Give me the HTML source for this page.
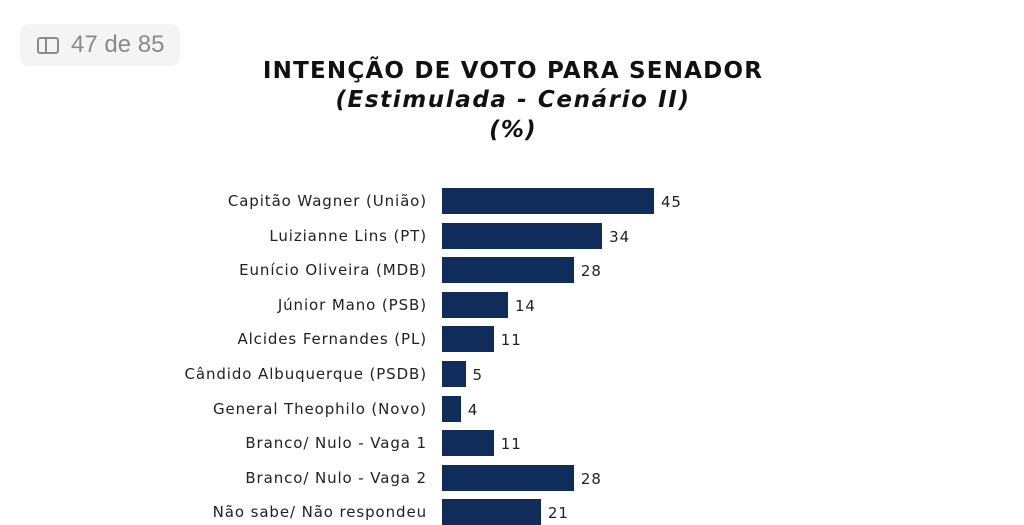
<!DOCTYPE html>
<html><head><meta charset="utf-8"><style>
body{margin:0;width:1024px;height:522px;background:#fff;position:relative;overflow:hidden;font-family:"DejaVu Sans",Verdana,sans-serif;}
.badge{position:absolute;left:20px;top:24px;width:160px;height:42px;background:#f4f4f4;border-radius:8px;}
.badge span{position:absolute;left:51px;top:7px;font-family:"Liberation Sans",sans-serif;font-size:24px;color:#8a8a8a;}
.ico{position:absolute;left:17px;top:13px;width:22px;height:17px;border:2px solid #8c8c8c;border-radius:3px;box-sizing:border-box;}
.ico:after{content:"";position:absolute;left:6px;top:0;bottom:0;border-left:2px solid #8c8c8c;}
.t{position:absolute;left:0;width:1026px;text-align:center;font-weight:bold;color:#111;font-size:23px;letter-spacing:1.2px;}
.lab{position:absolute;right:597px;font-size:15px;letter-spacing:0.9px;color:#222;white-space:nowrap;line-height:20px;}
.bar{position:absolute;left:442px;height:26px;background:#0f2c5a;}
.val{position:absolute;font-size:15px;letter-spacing:0.9px;color:#222;line-height:20px;}
</style></head><body>
<div class="badge"><div class="ico"></div><span>47 de 85</span></div>
<div class="t" style="top:58px">INTENÇÃO DE VOTO PARA SENADOR</div>
<div class="t" style="top:87px;font-style:italic;letter-spacing:1.6px">(Estimulada - Cenário II)</div>
<div class="t" style="top:117px;font-style:italic">(%)</div>
<div id="c"></div>
<script>
var d=[["Capitão Wagner (União)",45],["Luizianne Lins (PT)",34],["Eunício Oliveira (MDB)",28],["Júnior Mano (PSB)",14],["Alcides Fernandes (PL)",11],["Cândido Albuquerque (PSDB)",5],["General Theophilo (Novo)",4],["Branco/ Nulo - Vaga 1",11],["Branco/ Nulo - Vaga 2",28],["Não sabe/ Não respondeu",21]];
var h="";d.forEach(function(r,i){var cy=201+i*34.6,w=r[1]*4.71;
h+='<div class="lab" style="top:'+(cy-10)+'px">'+r[0]+'</div><div class="bar" style="top:'+(cy-13)+'px;width:'+w+'px"></div><div class="val" style="top:'+(cy-9)+'px;left:'+(442+w+7)+'px">'+r[1]+'</div>';});
document.getElementById("c").innerHTML=h;
</script>
</body></html>
